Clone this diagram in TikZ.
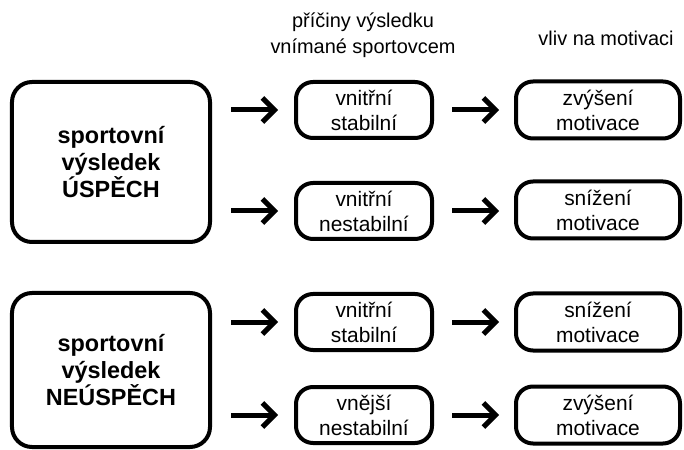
\documentclass[tikz,border=0pt]{standalone}
\usepackage{fontspec}
\setmainfont{Liberation Sans}
\usetikzlibrary{arrows.meta}
\begin{document}
\begin{tikzpicture}[x=1bp,y=-1bp,
  bigbox/.style={draw,line width=4bp,rounded corners=20bp,minimum width=198bp,align=center,font=\fontsize{23.5}{27}\selectfont\bfseries},
  midbox/.style={draw,line width=4bp,rounded corners=17bp,minimum width=136bp,minimum height=56bp,align=center,font=\fontsize{21}{25}\selectfont,inner sep=0pt},
  rbox/.style={draw,line width=4bp,rounded corners=17bp,minimum width=164bp,minimum height=57bp,align=center,font=\fontsize{21}{25}\selectfont,inner sep=0pt},
  head/.style={align=center,font=\fontsize{20}{26}\selectfont},
  arr/.style={line width=5bp,-{Straight Barb[length=12bp,width=24bp,line width=5bp]}}]
\useasboundingbox (0,0) rectangle (684,450);
\node[head] (h1) at (363,35) {příčiny výsledku\\vnímané sportovcem};
\node[head] (h2) at (606,38) {vliv na motivaci};
\node[bigbox,minimum height=160bp] (b1) at (111,162) {sportovní\\výsledek\\ÚSPĚCH};
\node[bigbox,minimum height=154bp] (b2) at (111,370) {sportovní\\výsledek\\NEÚSPĚCH};
\node[midbox] (m1) at (364,110) {vnitřní\\stabilní};
\node[midbox] (m2) at (364,211) {vnitřní\\nestabilní};
\node[midbox] (m3) at (364,322) {vnitřní\\stabilní};
\node[midbox] (m4) at (364,415) {vnější\\nestabilní};
\node[rbox] (r1) at (598,110) {zvýšení\\motivace};
\node[rbox] (r2) at (598,210) {snížení\\motivace};
\node[rbox] (r3) at (598,322) {snížení\\motivace};
\node[rbox] (r4) at (598,415) {zvýšení\\motivace};
\foreach \i/\y in {1/110,2/211,3/322,4/415}{
  \coordinate (s\i) at (231,\y);
  \coordinate (t\i) at (278,\y);
  \coordinate (u\i) at (452,\y);
  \coordinate (v\i) at (499,\y);
  \draw[arr] (s\i) -- (t\i);
  \draw[arr] (u\i) -- (v\i);
}
\end{tikzpicture}
\end{document}
